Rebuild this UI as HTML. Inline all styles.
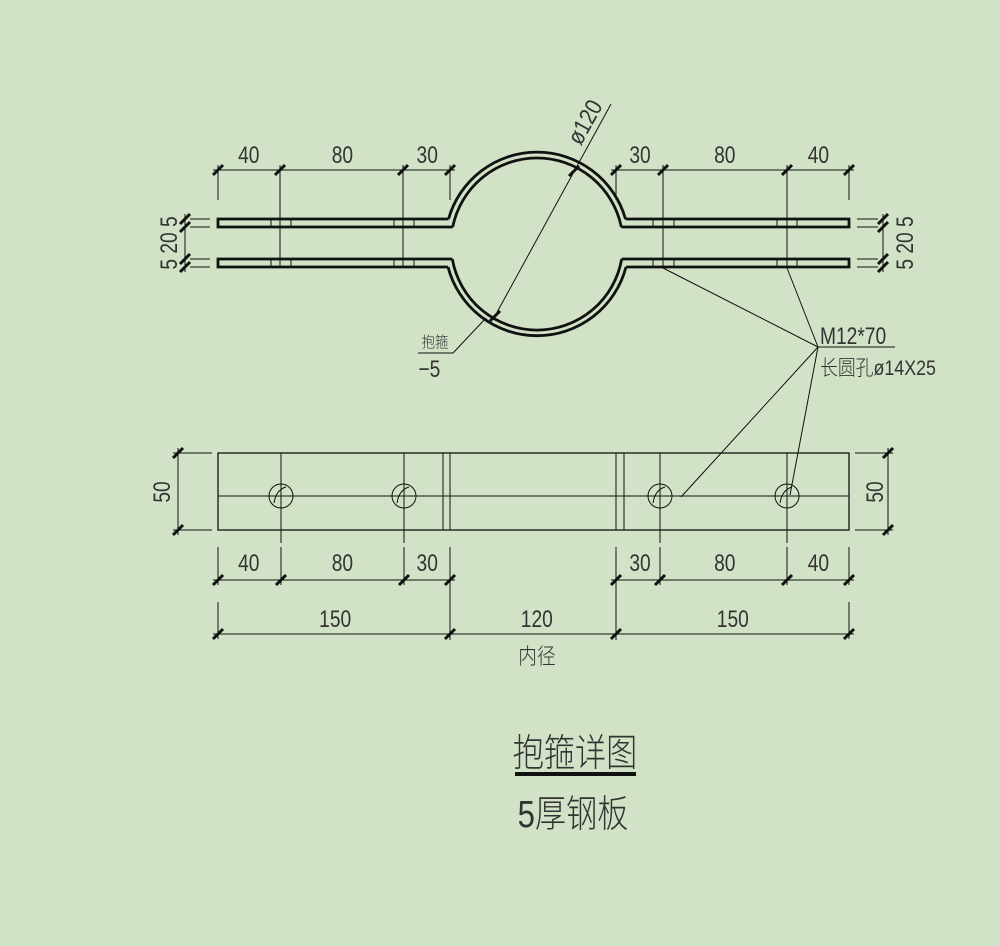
<!DOCTYPE html>
<html><head><meta charset="utf-8"><style>
html,body{margin:0;padding:0;background:#d2e2c6;}
svg{display:block}
text{font-family:"Liberation Sans","Noto Sans CJK SC",sans-serif;fill:#333;font-weight:300;}
</style></head><body>
<svg width="1000" height="946" viewBox="0 0 1000 946" xmlns="http://www.w3.org/2000/svg">
<rect width="1000" height="946" fill="#d2e2c6"/>
<defs>
<g id="tk"><line x1="-5" y1="5" x2="5" y2="-5" stroke="#111" stroke-width="3"/></g>
</defs>
<g stroke="#111" fill="none">
<g stroke-width="2.8">
<path d="M448.5 219 L218 219 L218 227 L452.7 227"/>
<path d="M448 267 L218 267 L218 259 L452.3 259"/>
<path d="M625.5 219 L849 219 L849 227 L621.3 227"/>
<path d="M626 267 L849 267 L849 259 L621.7 259"/>
<path d="M448.5 219 A92 92 0 0 1 625.5 219"/>
<path d="M452.7 227 A86 86 0 0 1 621.3 227"/>
<path d="M448 267 A92 92 0 0 0 626 267"/>
<path d="M452.3 259 A86 86 0 0 0 621.7 259"/>
</g>
<g stroke-width="1">
<path d="M271 219V227M291 219V227M394 219V227M414 219V227M271 259V267M291 259V267M394 259V267M414 259V267"/>
<path d="M653 219V227M674 219V227M777 219V227M797 219V227M653 259V267M674 259V267M777 259V267M797 259V267"/>
<path d="M213 170H455M218 165V200M280 165V267M403 165V267M450 165V200"/>
<path d="M611 170H854M616 165V200M663 165V267M787 165V267M849 165V200"/>
<path d="M185 214V272M190 219H210M190 227H210M190 259H210M190 267H210"/>
<path d="M883 214V272M857 219H878M857 227H878M857 259H878M857 267H878"/>
<path d="M611 104L495 316M453 353L486 318M418 353H453"/>
<path d="M663 268L818 347M787 268L818 347M818 347L681 497M818 347L790 495M818 347H895"/>
<rect x="218" y="453" width="631" height="77" stroke-width="1.3"/>
<path d="M218 496H849M443 453V530M450 453V530M616 453V530M624 453V530"/>
<path d="M281 453V543M404 453V543M660 453V543M787 453V543"/>
<circle cx="281" cy="496" r="12"/><circle cx="404" cy="496" r="12"/>
<circle cx="660" cy="496" r="12"/><circle cx="787" cy="496" r="12"/>
<path d="M274 503Q276 490 286 487M397 503Q399 490 409 487M653 503Q655 490 665 487M780 503Q782 490 792 487"/>
<path d="M178 448V535M173 453H212M173 530H212"/>
<path d="M888 448V535M855 453H893M855 530H893"/>
<path d="M213 580H455M218 547V585M281 547V585M404 547V585M450 547V640"/>
<path d="M611 580H854M616 547V640M660 547V585M787 547V585M849 547V585"/>
<path d="M213 634H854M218 602V639M849 602V639"/>
</g>
<g>
<use href="#tk" x="218" y="170"/><use href="#tk" x="280" y="170"/><use href="#tk" x="403" y="170"/><use href="#tk" x="450" y="170"/>
<use href="#tk" x="616" y="170"/><use href="#tk" x="663" y="170"/><use href="#tk" x="787" y="170"/><use href="#tk" x="849" y="170"/>
<use href="#tk" x="185" y="219"/><use href="#tk" x="185" y="227"/><use href="#tk" x="185" y="259"/><use href="#tk" x="185" y="267"/>
<use href="#tk" x="883" y="219"/><use href="#tk" x="883" y="227"/><use href="#tk" x="883" y="259"/><use href="#tk" x="883" y="267"/>
<use href="#tk" x="178" y="453"/><use href="#tk" x="178" y="530"/><use href="#tk" x="888" y="453"/><use href="#tk" x="888" y="530"/>
<use href="#tk" x="218" y="580"/><use href="#tk" x="281" y="580"/><use href="#tk" x="404" y="580"/><use href="#tk" x="450" y="580"/>
<use href="#tk" x="616" y="580"/><use href="#tk" x="660" y="580"/><use href="#tk" x="787" y="580"/><use href="#tk" x="849" y="580"/>
<use href="#tk" x="218" y="634"/><use href="#tk" x="450" y="634"/><use href="#tk" x="616" y="634"/><use href="#tk" x="849" y="634"/>
<use href="#tk" x="495" y="316"/><use href="#tk" x="574" y="171"/>
</g>
</g>
<g font-size="24" text-anchor="middle">
<g transform="scale(0.8,1)">
<text x="311" y="163">40</text><text x="428" y="163">80</text><text x="534" y="163">30</text>
<text x="800" y="163">30</text><text x="906" y="163">80</text><text x="1023" y="163">40</text>
<text x="311" y="571">40</text><text x="428" y="571">80</text><text x="534" y="571">30</text>
<text x="800" y="571">30</text><text x="906" y="571">80</text><text x="1023" y="571">40</text>
<text x="419" y="627">150</text><text x="671" y="627">120</text><text x="916" y="627">150</text>
<text x="1025" y="344" text-anchor="start">M12*70</text>
<text x="523" y="377" text-anchor="start">−5</text>
</g>
<text transform="translate(537,664) scale(0.85,1)" font-size="22">内径</text>
<text transform="translate(820,375) scale(0.85,1)" font-size="21" text-anchor="start">长圆孔ø14X25</text>
<text transform="translate(435,347) scale(0.9,1)" font-size="15">抱箍</text>
<text transform="translate(177,243) rotate(-90) scale(0.8,1)">5 20 5</text>
<text transform="translate(913,243) rotate(-90) scale(0.8,1)">5 20 5</text>
<text transform="translate(170,492) rotate(-90) scale(0.8,1)">50</text>
<text transform="translate(883,492) rotate(-90) scale(0.8,1)">50</text>
<text transform="translate(592,126) rotate(-61) scale(0.85,1)">ø120</text>
</g>
<text transform="translate(575,766) scale(0.82,1)" font-size="38" text-anchor="middle">抱箍详图</text>
<rect x="515" y="772" width="121" height="4" fill="#111"/>
<text transform="translate(573,827) scale(0.82,1)" font-size="38" text-anchor="middle">5厚钢板</text>
</svg>
</body></html>
